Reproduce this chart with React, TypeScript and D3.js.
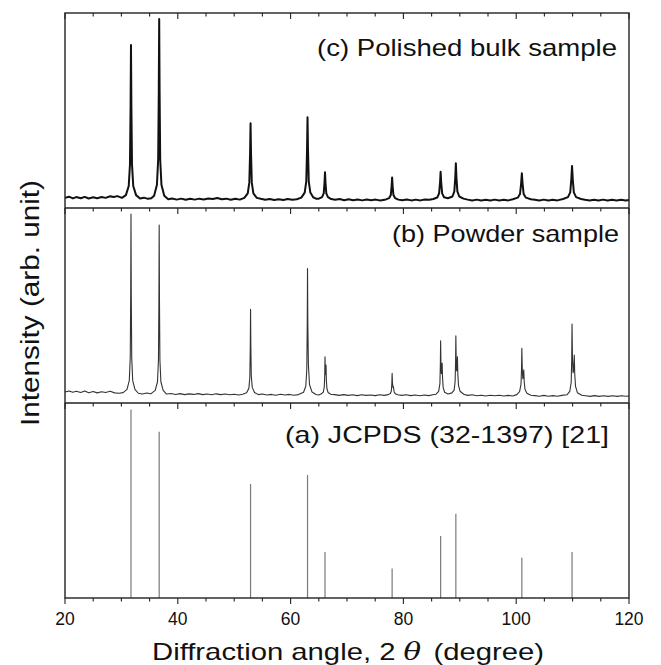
import React from "react";
import * as d3 from "d3";

// ---------- data ----------
const xTickLabels = [20, 40, 60, 80, 100, 120];
const minorTickValues = [20, 25, 30, 35, 40, 45, 50, 55, 60, 65, 70, 75, 80, 85, 90, 95, 100, 105, 110, 115, 120];

// JCPDS (32-1397) reference lines
const stickAngles = [31.7, 36.7, 52.9, 63.0, 66.1, 78.0, 86.6, 89.3, 101.0, 109.9];
const stickIntensities = [100, 88.3, 60.5, 65.3, 24.4, 15.6, 32.9, 44.7, 21.4, 24.4];

// (c) Polished bulk sample trace [2theta, intensity]
const traceBulk: [number, number][] = [
  [20, 5.2], [20.7, 5.8], [21.4, 4.9], [22, 5.6], [22.8, 5.0], [23.5, 5.7], [24.2, 4.9], [25, 5.5], [25.7, 5.0], [26.5, 5.6], [27.2, 5.2], [28, 6.0], [28.6, 5.6], [29.3, 6.1], [30.1, 5.2],
  [30.8, 6.6], [31.3, 11.3], [31.52, 22.3], [31.63, 52.2], [31.7, 83.6], [31.77, 52.2], [31.88, 22.3], [32.1, 11.3], [32.6, 6.6],
  [33.3, 4.9], [34, 5.3], [34.7, 4.7], [35.3, 5.0],
  [35.8, 6.3], [36.3, 11.9], [36.52, 24.8], [36.63, 59.9], [36.7, 96.9], [36.77, 59.9], [36.88, 24.8], [37.1, 11.9], [37.6, 6.3],
  [38.3, 4.5], [39, 4.9], [39.8, 4.3], [40.6, 4.8], [41.4, 4.2], [42.2, 4.7], [43, 4.3], [43.8, 4.8], [44.6, 4.4], [45.4, 4.9], [46.2, 4.6], [47, 5.1], [47.8, 4.5], [48.6, 4.8], [49.4, 4.2], [50.2, 4.7], [51, 4.3],
  [51.8, 5.2], [52.4, 7.5], [52.68, 13.0], [52.815, 27.8], [52.9, 43.4], [52.985, 27.8], [53.12, 13.0], [53.4, 7.5], [54.0, 5.2],
  [54.7, 4.7], [55.5, 4.2], [56.3, 4.6], [57.1, 4.1], [57.9, 4.5], [58.7, 4.1], [59.5, 4.6], [60.3, 4.2], [61.1, 4.5],
  [61.9, 5.3], [62.5, 7.9], [62.78, 13.7], [62.915, 29.7], [63.0, 46.5], [63.085, 29.7], [63.22, 13.7], [63.5, 7.9], [64.0, 5.5],
  [64.5, 4.8],
  [65.0, 4.8], [65.58, 5.6], [65.87, 7.5], [66.01, 12.8], [66.1, 18.3], [66.19, 12.8], [66.33, 7.5], [66.62, 5.6], [67.2, 4.6],
  [67.9, 4.2], [68.7, 4.6], [69.5, 4.0], [70.3, 4.5], [71.1, 4.0], [71.9, 4.4], [72.7, 3.9], [73.5, 4.4], [74.3, 4.0], [75.1, 4.3], [75.9, 3.9],
  [76.9, 4.4], [77.48, 5.1], [77.77, 6.7], [77.91, 11.1], [78.0, 15.7], [78.09, 11.1], [78.23, 6.7], [78.52, 5.1], [79.1, 4.3],
  [79.8, 4.0], [80.6, 4.4], [81.4, 3.9], [82.2, 4.3], [83, 3.9], [83.8, 4.4], [84.6, 4.2],
  [85.3, 4.6], [86.0, 5.4], [86.33, 7.5], [86.495, 12.9], [86.6, 18.6], [86.705, 12.9], [86.87, 7.5], [87.2, 5.5], [87.9, 5.0],
  [88.7, 5.9], [89.03, 8.5], [89.195, 15.5], [89.3, 22.9], [89.405, 15.5], [89.57, 8.5], [89.9, 5.9], [90.65, 4.8],
  [91.4, 4.3], [92.2, 3.9], [93, 4.3], [93.8, 3.8], [94.6, 4.2], [95.4, 3.8], [96.2, 4.3], [97, 3.9], [97.8, 4.2], [98.6, 3.9],
  [99.4, 4.5], [100.28, 5.3], [100.68, 7.2], [100.87, 12.4], [101.0, 17.8], [101.13, 12.4], [101.32, 7.2], [101.72, 5.3], [102.6, 4.5],
  [103.3, 4.2], [104.1, 3.8], [104.9, 4.3], [105.7, 3.8], [106.5, 4.2], [107.3, 3.9],
  [108.3, 4.6], [109.18, 5.6], [109.58, 8.0], [109.77, 14.6], [109.9, 21.5], [110.03, 14.6], [110.22, 8.0], [110.62, 5.6], [111.5, 4.6],
  [112.2, 4.2], [113, 3.8], [113.8, 4.2], [114.6, 3.8], [115.4, 4.3], [116.2, 3.8], [117, 4.2], [117.8, 3.8], [118.6, 4.2], [119.4, 3.8], [120, 4.1],
];

// (b) Powder sample trace [2theta, intensity]
const tracePowder: [number, number][] = [
  [20, 5.6], [20.7, 6.2], [21.4, 5.5], [22, 6.0], [22.8, 5.4], [23.5, 6.1], [24.2, 5.3], [25, 5.9], [25.7, 5.2], [26.5, 5.8], [27.2, 5.4], [28, 6.0], [28.8, 5.2], [29.6, 5.0], [30.3, 5.3],
  [31.0, 7.0], [31.4, 11.6], [31.57, 23.5], [31.65, 55.6], [31.7, 96.9], [31.75, 55.6], [31.83, 23.5], [32.0, 11.6], [32.4, 7.0],
  [33, 5.0], [33.7, 4.6], [34.5, 5.1], [35.2, 4.7],
  [36.0, 6.5], [36.4, 10.9], [36.57, 22.1], [36.65, 52.4], [36.7, 91.3], [36.75, 52.4], [36.83, 22.1], [37.0, 10.9], [37.4, 6.5],
  [38, 4.6], [38.8, 4.9], [39.6, 4.4], [40.4, 4.8], [41.2, 4.3], [42, 4.7], [42.8, 4.4], [43.6, 4.8], [44.4, 4.3], [45.2, 4.6], [46, 4.2], [46.8, 4.7], [47.6, 4.3], [48.4, 4.6], [49.2, 4.2], [50, 4.5], [50.8, 4.1], [51.5, 4.5],
  [52.2, 5.3], [52.6, 7.5], [52.77, 13.1], [52.85, 28.4], [52.9, 48], [52.95, 30], [53.03, 14], [53.2, 8], [53.6, 5.4],
  [54.3, 4.3], [55, 4.6], [55.8, 4.1], [56.6, 4.4], [57.4, 4.0], [58.2, 4.5], [59, 4.1], [59.8, 4.4], [60.6, 4.0], [61.4, 4.3],
  [62.3, 5.5], [62.7, 8.7], [62.87, 17.2], [62.95, 39.8], [63.0, 69], [63.05, 42], [63.15, 20], [63.35, 9.5], [63.8, 5.6],
  [64.5, 4.4], [65, 4.1],
  [65.4, 4.6], [65.8, 5.6], [65.97, 8.2], [66.05, 14.0], [66.1, 23.7], [66.16, 15.5], [66.22, 14.5], [66.28, 19.5], [66.34, 11.5], [66.45, 7.2], [66.65, 5.4], [67.1, 4.5],
  [67.8, 4.3], [68.6, 3.9], [69.4, 4.3], [70.2, 3.9], [71, 4.2], [71.8, 3.8], [72.6, 4.2], [73.4, 3.9], [74.2, 4.1], [75, 3.8], [75.8, 4.2], [76.6, 3.9],
  [77.3, 4.3], [77.7, 4.9], [77.87, 6.3], [77.95, 10.0], [78.0, 15.2], [78.06, 10.5], [78.15, 8.0], [78.22, 8.5], [78.35, 5.8], [78.55, 4.8], [79.0, 4.2],
  [79.7, 3.9], [80.5, 4.2], [81.3, 3.8], [82.1, 4.1], [82.9, 3.7], [83.7, 4.1], [84.5, 3.8], [85.2, 4.2],
  [85.8, 4.5], [86.25, 6.0], [86.47, 9.8], [86.55, 19.5], [86.6, 31.9], [86.66, 20], [86.74, 15], [86.8, 16.5], [86.87, 20.5], [86.94, 13], [87.05, 8], [87.3, 5.5], [87.9, 4.6],
  [88.6, 5.2], [89.0, 6.6], [89.17, 11], [89.25, 21], [89.3, 34.4], [89.36, 22], [89.44, 16.5], [89.51, 18], [89.58, 23.7], [89.65, 15], [89.77, 9], [90.05, 6], [90.7, 4.5],
  [91.4, 3.9], [92.2, 4.2], [93, 3.7], [93.8, 4.0], [94.6, 3.6], [95.4, 4.0], [96.2, 3.7], [97, 4.0], [97.8, 3.6], [98.6, 3.9], [99.4, 3.6],
  [100.1, 4.3], [100.6, 5.8], [100.85, 9.5], [100.94, 17], [101.0, 28], [101.07, 18], [101.17, 12.5], [101.26, 13.5], [101.34, 17], [101.42, 11], [101.56, 7], [101.9, 5], [102.6, 4.0],
  [103.3, 3.8], [104.1, 3.5], [104.9, 3.9], [105.7, 3.5], [106.5, 3.8], [107.3, 3.5], [108.1, 3.9],
  [109.0, 4.2], [109.5, 6.0], [109.75, 10.5], [109.84, 22], [109.9, 40.5], [109.97, 24], [110.08, 15.5], [110.2, 17], [110.3, 24.6], [110.38, 15], [110.52, 8.5], [110.85, 5.3], [111.6, 4.0],
  [112.3, 3.7], [113.1, 3.4], [113.9, 3.8], [114.7, 3.4], [115.5, 3.7], [116.3, 3.4], [117.1, 3.7], [117.9, 3.4], [118.7, 3.7], [119.4, 3.5], [120, 3.6],
];

const panelLabels = ["(c) Polished bulk sample", "(b) Powder sample", "(a) JCPDS (32-1397) [21]"];

// ---------- layout ----------
const W = 661;
const H = 665;
const X0 = 65;
const X1 = 629;
const TOPS = [13, 208, 403];
const PH = 195;
const FONT = "'Liberation Sans', Arial, sans-serif";

export default function App() {
  const x = d3.scaleLinear().domain([20, 120]).range([X0, X1]);
  const yC = d3.scaleLinear().domain([0, 100]).range([TOPS[0] + PH, TOPS[0]]);
  const yB = d3.scaleLinear().domain([0, 100]).range([TOPS[1] + PH, TOPS[1]]);
  const yA = d3.scaleLinear().domain([0, 103.5]).range([TOPS[2] + PH, TOPS[2]]);

  const lineC = d3.line<[number, number]>().x((d) => x(d[0])).y((d) => yC(d[1]));
  const lineB = d3.line<[number, number]>().x((d) => x(d[0])).y((d) => yB(d[1]));
  const bottom = TOPS[2] + PH;

  return (
    <svg width={W} height={H} style={{ position: "absolute", left: 0, top: 0, background: "#fff" }}>
      <rect x={0} y={0} width={W} height={H} fill="#fff" />
      {/* traces */}
      <path d={lineC(traceBulk) || ""} fill="none" stroke="#111" strokeWidth={2.0} strokeLinejoin="round" />
      <path d={lineB(tracePowder) || ""} fill="none" stroke="#333" strokeWidth={1.1} strokeLinejoin="round" />
      {stickAngles.map((a, i) => (
        <line key={i} x1={x(a)} x2={x(a)} y1={yA(0)} y2={yA(stickIntensities[i])} stroke="#7a7a7a" strokeWidth={1.2} />
      ))}

      {/* frame */}
      <rect x={X0} y={TOPS[0]} width={X1 - X0} height={PH * 3} fill="none" stroke="#222" strokeWidth={1.4} />
      <line x1={X0} x2={X1} y1={TOPS[1]} y2={TOPS[1]} stroke="#222" strokeWidth={1.4} />
      <line x1={X0} x2={X1} y1={TOPS[2]} y2={TOPS[2]} stroke="#222" strokeWidth={1.4} />

      {/* ticks on each panel top (pointing down) and bottom axis (pointing down) */}
      {[TOPS[0], TOPS[1], TOPS[2], bottom].map((ty, k) =>
        minorTickValues.map((v) => {
          const major = v % 20 === 0;
          const len = major ? 6 : 3.5;
          return (
            <line key={`${k}-${v}`} x1={x(v)} x2={x(v)} y1={ty} y2={ty + len} stroke="#222" strokeWidth={1.1} />
          );
        })
      )}

      {/* tick labels */}
      {xTickLabels.map((v) => (
        <text key={v} x={x(v)} y={625} textAnchor="middle" fontFamily={FONT} fontSize={17.5} fill="#111">
          {v}
        </text>
      ))}

      {/* panel labels */}
      <text x={617} y={56} textAnchor="end" fontFamily={FONT} fontSize={24} fill="#111" textLength={300} lengthAdjust="spacingAndGlyphs">{panelLabels[0]}</text>
      <text x={619} y={242} textAnchor="end" fontFamily={FONT} fontSize={24} fill="#111" textLength={227} lengthAdjust="spacingAndGlyphs">{panelLabels[1]}</text>
      <text x={609} y={443} textAnchor="end" fontFamily={FONT} fontSize={24} fill="#111" textLength={324} lengthAdjust="spacingAndGlyphs">{panelLabels[2]}</text>

      {/* axis titles */}
      <text x={348} y={660} textAnchor="middle" fontFamily={FONT} fontSize={24} fill="#111" textLength={392} lengthAdjust="spacingAndGlyphs">
        <tspan>Diffraction angle, 2 </tspan>
        <tspan fontFamily="'DejaVu Serif', serif" fontStyle="italic">θ</tspan>
        <tspan dx={10}>(degree)</tspan>
      </text>
      <text transform={`translate(39, 303) rotate(-90)`} textAnchor="middle" fontFamily={FONT} fontSize={25} fill="#111" textLength={246} lengthAdjust="spacingAndGlyphs">
        Intensity (arb. unit)
      </text>
    </svg>
  );
}
